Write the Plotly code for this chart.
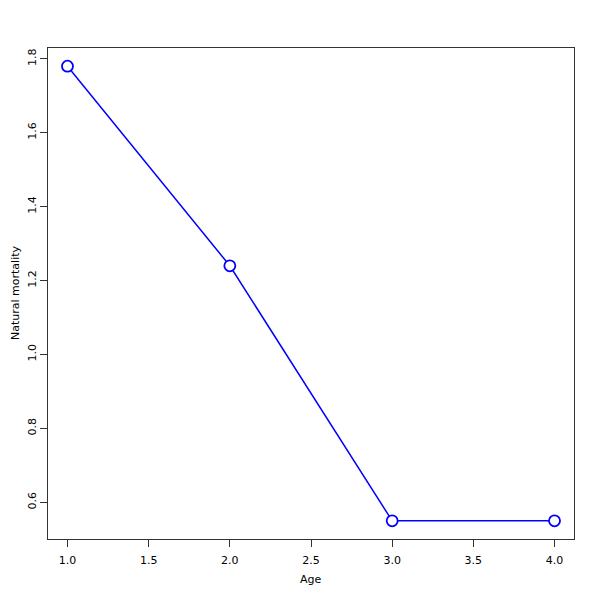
import plotly.graph_objects as go

ages = [1, 2, 3, 4]
mortality = [1.78, 1.24, 0.55, 0.55]
x_ticks = [1.0, 1.5, 2.0, 2.5, 3.0, 3.5, 4.0]
x_tick_labels = ["1.0", "1.5", "2.0", "2.5", "3.0", "3.5", "4.0"]
y_ticks = [0.6, 0.8, 1.0, 1.2, 1.4, 1.6, 1.8]
y_tick_labels = ["0.6", "0.8", "1.0", "1.2", "1.4", "1.6", "1.8"]

xmin, xmax = min(ages), max(ages)
ymin, ymax = min(mortality), max(mortality)
xpad = (xmax - xmin) * 0.04
ypad = (ymax - ymin) * 0.04

# page has an 8px body margin; figure occupies page pixels 8..600
OFF = 8
W = H = 600 - OFF
ML, MR, MT, MB = 48 - OFF, 26, 48 - OFF, 61
plot_w = W - ML - MR
plot_h = H - MT - MB

def px_x(page_x):
    return (page_x - OFF - ML) / plot_w

def px_y(page_y):
    return (H - MB - (page_y - OFF)) / plot_h

fig = go.Figure()
fig.add_trace(go.Scatter(
    x=ages, y=mortality, mode="lines+markers",
    line=dict(color="#0000ff", width=1.5),
    marker=dict(symbol="circle", size=11, color="white",
                line=dict(color="#0000ff", width=1.8)),
    showlegend=False,
))

font = dict(family="DejaVu Sans, sans-serif", size=11, color="#000000")
fig.update_layout(
    width=W, height=H,
    margin=dict(l=ML, r=MR, t=MT, b=MB, autoexpand=False),
    paper_bgcolor="white", plot_bgcolor="white",
    font=font,
    xaxis=dict(range=[xmin - xpad, xmax + xpad], tickvals=x_ticks, ticktext=x_tick_labels,
               showgrid=False, zeroline=False, showline=True, mirror=True, automargin=False,
               linecolor="#333333", linewidth=1, ticks="outside", ticklen=7,
               tickcolor="#333333", tickfont=font, ticklabelstandoff=4),
    yaxis=dict(range=[ymin - ypad, ymax + ypad], tickvals=y_ticks, ticktext=y_tick_labels,
               showgrid=False, zeroline=False, showline=True, mirror=True, automargin=False,
               linecolor="#333333", linewidth=1, ticks="outside", ticklen=7,
               tickcolor="#333333", tickfont=font, tickangle=-90),
    annotations=[
        dict(text="Age", xref="paper", yref="paper", showarrow=False,
             x=px_x(311), y=px_y(580),
             xanchor="center", yanchor="middle", font=font),
        dict(text="Natural mortality", xref="paper", yref="paper", showarrow=False,
             x=px_x(15), y=px_y(293),
             xanchor="center", yanchor="middle", textangle=-90, font=font),
    ],
)

fig.write_html("out.html")
